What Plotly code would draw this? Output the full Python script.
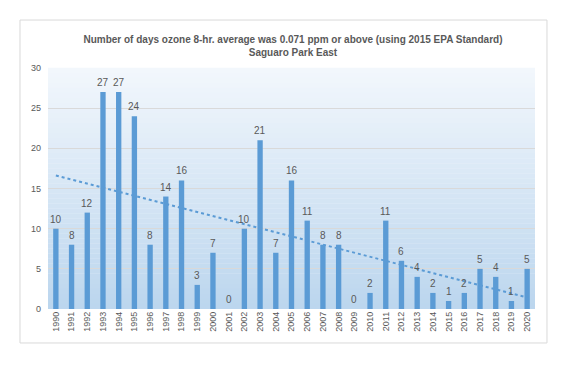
import numpy as np
import plotly.graph_objects as go

years = [str(y) for y in range(1990, 2021)]
days = [10, 8, 12, 27, 27, 24, 8, 14, 16, 3, 7, 0, 10, 21, 7, 16, 11, 8, 8, 0,
        2, 11, 6, 4, 2, 1, 2, 5, 4, 1, 5]
y_ticks = [0, 5, 10, 15, 20, 25, 30]
title_lines = ["Number of days ozone 8-hr. average was 0.071 ppm or above (using 2015 EPA Standard)",
               "Saguaro Park East"]

# Linear trendline (least squares, as Excel does)
idx = np.arange(len(days))
slope, intercept = np.polyfit(idx, days, 1)
trend = slope * idx + intercept

BAR = "#5b9bd5"
TXT = "#595959"

fig = go.Figure()
fig.add_trace(go.Bar(x=years, y=days, marker=dict(color=BAR, line=dict(width=0)),
                     width=0.34, hoverinfo="x+y"))
fig.add_trace(go.Scatter(x=years, y=trend, mode="lines",
                         line=dict(color=BAR, width=2, dash="dot"), hoverinfo="skip"))

# data labels (x given as category index positions)
annotations = [dict(x=i, y=v, text=str(v), showarrow=False, xref="x", yref="y",
                    yanchor="bottom", yshift=2,
                    font=dict(color=TXT, size=10, family="Liberation Sans"))
               for i, v in enumerate(days)]

# gradient background for plot area
n = 48
top = np.array([0xf2, 0xf7, 0xfc])
bot = np.array([0xbc, 0xd6, 0xee])
shapes = []
for i in range(n):
    t = i / (n - 1)
    c = top * (1 - t) + bot * t
    shapes.append(dict(type="rect", xref="x domain", yref="y domain",
                       x0=0, x1=1, y0=1 - (i + 1) / n, y1=1 - i / n + 0.001,
                       fillcolor="rgb(%d,%d,%d)" % tuple(np.round(c).astype(int)),
                       line=dict(width=0), layer="below"))
# outer chart border
shapes.append(dict(type="rect", xref="paper", yref="paper",
                   x0=-0.0575, x1=1.0246, y0=-0.141, y1=1.199,
                   line=dict(color="#d9d9d9", width=1), fillcolor="rgba(0,0,0,0)"))

fig.update_layout(
    width=570, height=371,
    margin=dict(l=48, r=35, t=68, b=62),
    paper_bgcolor="white", plot_bgcolor="rgba(0,0,0,0)",
    showlegend=False,
    bargap=0.66,
    shapes=shapes,
    annotations=annotations,
    title=dict(text="<b>" + title_lines[0] + "</b><br><b>" + title_lines[1] + "</b>",
               x=0.514, xanchor="center", y=1 - 43 / 371, yanchor="middle",
               yref="container",
               font=dict(family="Liberation Sans Narrow, Liberation Sans", size=10, color=TXT)),
    xaxis=dict(type="category", tickangle=-90, showgrid=False, showline=False,
               range=[-0.5, len(years) - 0.5],
               ticks="", tickfont=dict(family="Liberation Sans", size=9, color=TXT)),
    yaxis=dict(range=[0, 30], tickvals=y_ticks, showgrid=True, gridcolor="#d9d9d9",
               gridwidth=1, zeroline=False, showline=False, ticks="",
               ticklabelstandoff=6,
               tickfont=dict(family="Liberation Sans", size=9, color=TXT)),
)

fig.write_html("out.html", config={"displayModeBar": False})
with open("out.html", encoding="utf-8") as f:
    html = f.read()
html = html.replace("<body>", '<body style="margin:0">', 1)
with open("out.html", "w", encoding="utf-8") as f:
    f.write(html)
